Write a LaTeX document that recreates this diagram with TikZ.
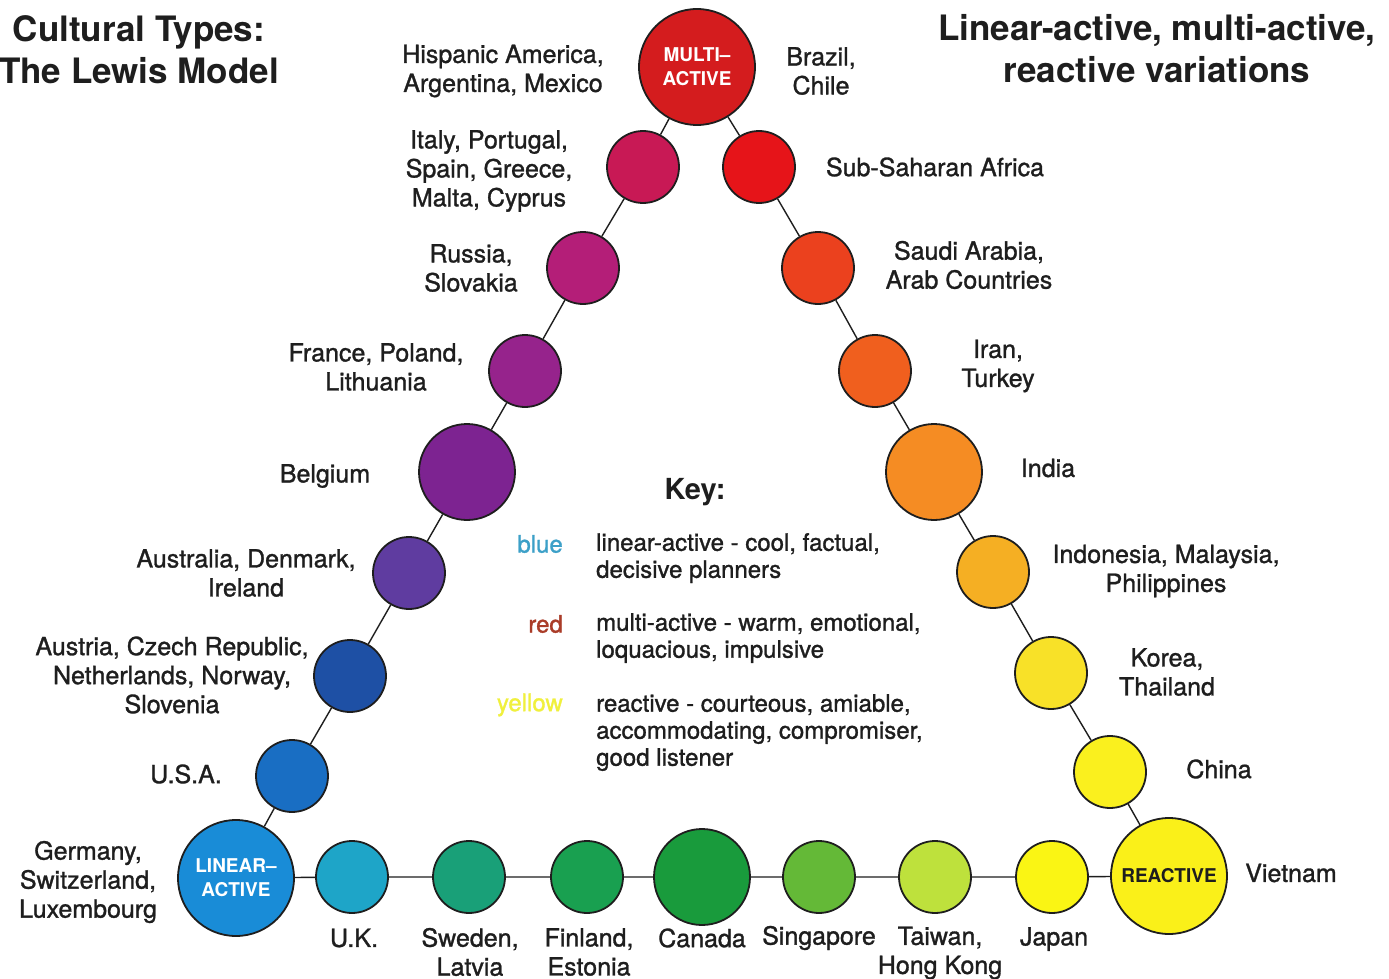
\documentclass[tikz,border=0pt]{standalone}
\usepackage{fontspec}
\setmainfont{TeX Gyre Heros}
\newfontfamily\medfont{TeX Gyre Heros}[FakeBold=1.2]
\definecolor{cMulti}{RGB}{212,28,30}
\definecolor{cItaly}{RGB}{200,25,85}
\definecolor{cRussia}{RGB}{180,30,120}
\definecolor{cFrance}{RGB}{150,35,140}
\definecolor{cBelgium}{RGB}{125,35,145}
\definecolor{cAustralia}{RGB}{95,60,160}
\definecolor{cAustria}{RGB}{30,80,165}
\definecolor{cUSA}{RGB}{25,110,195}
\definecolor{cLinear}{RGB}{25,140,215}
\definecolor{cUK}{RGB}{30,165,200}
\definecolor{cSweden}{RGB}{25,160,120}
\definecolor{cFinland}{RGB}{25,160,80}
\definecolor{cCanada}{RGB}{25,155,60}
\definecolor{cSingapore}{RGB}{100,185,55}
\definecolor{cTaiwan}{RGB}{190,225,60}
\definecolor{cJapan}{RGB}{250,245,20}
\definecolor{cReactive}{RGB}{250,240,25}
\definecolor{cChina}{RGB}{250,240,30}
\definecolor{cKorea}{RGB}{248,225,40}
\definecolor{cIndonesia}{RGB}{245,175,35}
\definecolor{cIndia}{RGB}{245,140,35}
\definecolor{cIran}{RGB}{240,95,30}
\definecolor{cSaudi}{RGB}{235,65,30}
\definecolor{cSubSahara}{RGB}{230,20,25}
\definecolor{keyBlue}{RGB}{60,160,200}
\definecolor{keyRed}{RGB}{170,60,40}
\definecolor{keyYellow}{RGB}{240,240,60}
\definecolor{ink}{RGB}{30,30,30}
\tikzset{
  ball/.style={circle, draw=ink, line width=1.8pt, inner sep=0pt},
  small/.style={ball, minimum size=72},
  mid/.style={ball, minimum size=96},
  big/.style={ball, minimum size=116},
  lbl/.style={align=center, inner sep=0pt, text=ink, font=\medfont\fontsize{25}{29}\selectfont},
  keytxt/.style={align=left, inner sep=0pt, text=ink, font=\medfont\fontsize{24}{27}\selectfont},
  keycol/.style={inner sep=0pt, anchor=east, font=\medfont\fontsize{24}{27}\selectfont},
  ttl/.style={align=center, inner sep=0pt, text=ink, font=\fontsize{35}{42}\bfseries\selectfont},
  hub/.style={align=center, font=\fontsize{19}{24}\bfseries\selectfont},
  conn/.style={line width=1.4pt, ink}
}
\begin{document}
\begin{tikzpicture}[x=1pt,y=-1pt]
\useasboundingbox[fill=white] (0,0) rectangle (1389,979);
% circles
\node[big, fill=cMulti, text=white, hub] (multi) at (697,67) {MULTI--\\ACTIVE};
\node[big, fill=cLinear, text=white, hub] (linear) at (236,878) {LINEAR--\\ACTIVE};
\node[big, fill=cReactive, text=ink, hub] (reactive) at (1169,876) {REACTIVE};
\node[small, fill=cItaly] (italy) at (643,167) {};
\node[small, fill=cRussia] (russia) at (583,268) {};
\node[small, fill=cFrance] (france) at (525,371) {};
\node[mid, fill=cBelgium] (belgium) at (467,472) {};
\node[small, fill=cAustralia] (australia) at (409,573) {};
\node[small, fill=cAustria] (austria) at (350,676) {};
\node[small, fill=cUSA] (usa) at (292,776) {};
\node[small, fill=cSubSahara] (subsahara) at (759,167) {};
\node[small, fill=cSaudi] (saudi) at (818,268) {};
\node[small, fill=cIran] (iran) at (875,371) {};
\node[mid, fill=cIndia] (india) at (934,472) {};
\node[small, fill=cIndonesia] (indonesia) at (993,572) {};
\node[small, fill=cKorea] (korea) at (1051,673) {};
\node[small, fill=cChina] (china) at (1110,772) {};
\node[small, fill=cUK] (uk) at (352,877) {};
\node[small, fill=cSweden] (sweden) at (469,877) {};
\node[small, fill=cFinland] (finland) at (587,877) {};
\node[mid, fill=cCanada] (canada) at (702,877) {};
\node[small, fill=cSingapore] (singapore) at (819,877) {};
\node[small, fill=cTaiwan] (taiwan) at (935,877) {};
\node[small, fill=cJapan] (japan) at (1052,877) {};
% connectors
\draw[conn] (linear) -- (usa) -- (austria) -- (australia) -- (belgium) -- (france) -- (russia) -- (italy) -- (multi);
\draw[conn] (multi) -- (subsahara) -- (saudi) -- (iran) -- (india) -- (indonesia) -- (korea) -- (china) -- (reactive);
\draw[conn] (linear) -- (uk) -- (sweden) -- (finland) -- (canada) -- (singapore) -- (taiwan) -- (japan) -- (reactive);
% titles
\node[ttl] (t1) at (139,50) {Cultural Types:\\The Lewis Model};
\node[ttl] (t2) at (1157,49) {Linear-active, multi-active,\\reactive variations};
% labels
\node[lbl] (l1) at (503,71) {Hispanic America,\\Argentina, Mexico};
\node[lbl] (l2) at (821,71) {Brazil,\\Chile};
\node[lbl] (l3) at (489,171) {Italy, Portugal,\\Spain, Greece,\\Malta, Cyprus};
\node[lbl] (l4) at (935,167) {Sub-Saharan Africa};
\node[lbl] (l5) at (471,268) {Russia,\\Slovakia};
\node[lbl] (l6) at (969,265) {Saudi Arabia,\\Arab Countries};
\node[lbl] (l7) at (376,367) {France, Poland,\\Lithuania};
\node[lbl] (l8) at (998,366) {Iran,\\Turkey};
\node[lbl] (l9) at (325,476) {Belgium};
\node[lbl] (l10) at (1048,468) {India};
\node[lbl] (l11) at (246,573) {Australia, Denmark,\\Ireland};
\node[lbl] (l12) at (1166,571) {Indonesia, Malaysia,\\Philippines};
\node[lbl] (l13) at (172,675) {Austria, Czech Republic,\\Netherlands, Norway,\\Slovenia};
\node[lbl] (l14) at (1167,672) {Korea,\\Thailand};
\node[lbl] (l15) at (186,774) {U.S.A.};
\node[lbl] (l16) at (1219,769) {China};
\node[lbl] (l17) at (88,882) {Germany,\\Switzerland,\\Luxembourg};
\node[lbl] (l18) at (1291,873) {Vietnam};
\node[lbl] (l19) at (354,938) {U.K.};
\node[lbl] (l20) at (470,952) {Sweden,\\Latvia};
\node[lbl] (l21) at (589,952) {Finland,\\Estonia};
\node[lbl] (l22) at (702,938) {Canada};
\node[lbl] (l23) at (819,938) {Singapore};
\node[lbl] (l24) at (940,953) {Taiwan,\\Hong Kong};
\node[lbl] (l25) at (1054,939) {Japan};
% key
\node[inner sep=0pt, text=ink, font=\fontsize{29}{32}\bfseries\selectfont] (key) at (695,492) {Key:};
\node[keycol, text=keyBlue] (kb) at (563,544) {blue};
\node[keycol, text=keyRed] (kr) at (563,624) {red};
\node[keycol, text=keyYellow] (ky) at (563,705) {yellow};
\node[keytxt, anchor=north west] (kt1) at (596,533) {linear-active - cool, factual,\\decisive planners};
\node[keytxt, anchor=north west] (kt2) at (596,613) {multi-active - warm, emotional,\\loquacious, impulsive};
\node[keytxt, anchor=north west] (kt3) at (596,694) {reactive - courteous, amiable,\\accommodating, compromiser,\\good listener};
\end{tikzpicture}
\end{document}
